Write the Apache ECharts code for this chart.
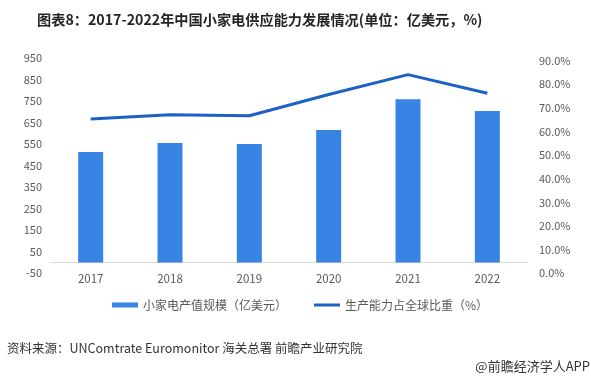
<!DOCTYPE html>
<html>
<head>
<meta charset="utf-8">
<script src="https://cdn.jsdelivr.net/npm/echarts@6/dist/echarts.min.js"></script>
<style>
html,body{margin:0;padding:0;background:#fff;}
#chart{width:591px;height:381px;}
</style>
</head>
<body>
<div id="chart"></div>
<script>
const categories = ['2017', '2018', '2019', '2020', '2021', '2022'];
const outputValue = [514, 556, 551, 616, 760, 705];
const globalShare = [0.653, 0.671, 0.667, 0.757, 0.841, 0.762];
const barName = '小家电产值规模（亿美元）';
const lineName = '生产能力占全球比重（%）';
const titleText = '图表8：2017-2022年中国小家电供应能力发展情况(单位：亿美元，%)';
const sourceText = '资料来源：UNComtrate Euromonitor 海关总署 前瞻产业研究院';
const brandText = '@前瞻经济学人APP';

const FONT = '"Noto Sans CJK SC", "Noto Sans", sans-serif';
const chart = echarts.init(document.getElementById('chart'), null, {renderer: 'canvas'});
chart.setOption({
  animation: false,
  backgroundColor: '#ffffff',
  title: {
    text: titleText,
    left: 32, top: 8,
    textStyle: {fontSize: 14.2, fontWeight: 'bold', color: '#262626', fontFamily: FONT}
  },
  grid: {left: 51, right: 64, top: 58.3, bottom: 107.7, containLabel: false},
  legend: {
    left: 107, top: 294,
    itemGap: 27,
    itemWidth: 26, itemHeight: 6,
    textStyle: {fontSize: 12, color: '#595959', fontFamily: FONT},
    data: [
      {name: barName, icon: 'path://M0,0H26V0H0Z M0,0.5H26V5.5H0Z M0,6H26V6H0Z'},
      {name: lineName, icon: 'path://M0,0H26V0H0Z M0,1.5H26V4.5H0Z M0,6H26V6H0Z'}
    ]
  },
  xAxis: {
    type: 'category',
    data: categories,
    axisLine: {onZero: true, onZeroAxisIndex: 0, lineStyle: {color: '#d9d9d9', width: 1}},
    axisTick: {show: false},
    axisLabel: {color: '#595959', fontSize: 11.5, margin: 0, fontFamily: FONT}
  },
  yAxis: [
    {
      type: 'value', min: -50, max: 950, interval: 100,
      splitLine: {show: false},
      axisLine: {show: false}, axisTick: {show: false},
      axisLabel: {color: '#595959', fontSize: 11, margin: 9, fontFamily: FONT}
    },
    {
      type: 'value', min: 0, max: 0.91, interval: 0.1,
      splitLine: {show: false},
      axisLine: {show: false}, axisTick: {show: false},
      axisLabel: {
        color: '#595959', fontSize: 11, margin: 12, fontFamily: FONT,
        showMaxLabel: false,
        formatter: v => (v * 100).toFixed(1) + '%'
      }
    }
  ],
  series: [
    {
      name: barName, type: 'bar', yAxisIndex: 0,
      data: outputValue, barWidth: 25,
      itemStyle: {color: '#3784e5'}
    },
    {
      name: lineName, type: 'line', yAxisIndex: 1,
      data: globalShare, symbol: 'none', showSymbol: false,
      lineStyle: {color: '#1c61c4', width: 3},
      itemStyle: {color: '#1c61c4'}
    }
  ],
  graphic: [
    {type: 'text', left: 7, top: 342,
     style: {text: sourceText, fontSize: 12.5, fill: '#333333', fontFamily: FONT}},
    {type: 'text', right: 1, top: 360,
     style: {text: brandText, fontSize: 13, fill: '#333333', fontFamily: FONT}}
  ]
});
</script>
</body>
</html>
